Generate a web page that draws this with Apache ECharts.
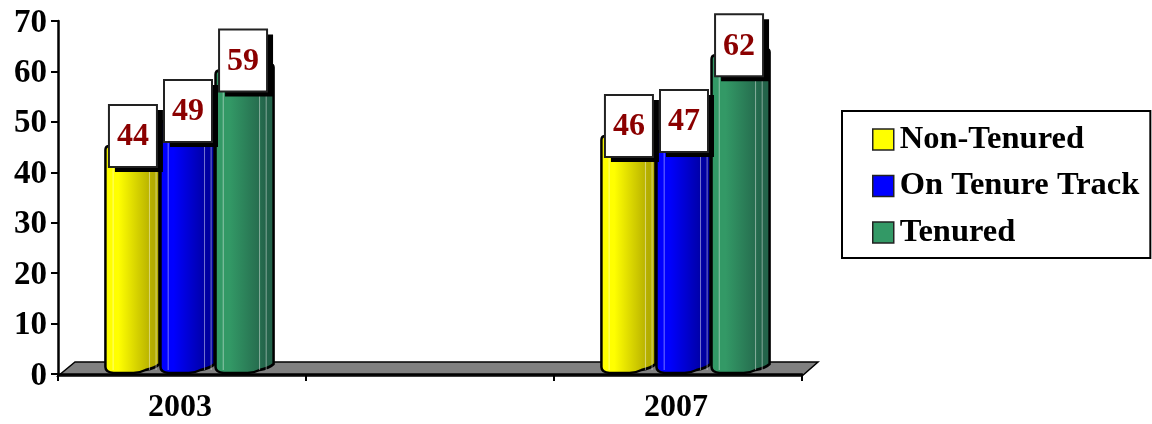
<!DOCTYPE html>
<html>
<head>
<meta charset="utf-8">
<style>
html, body { margin: 0; padding: 0; background: #fff; }
#chart { width: 1152px; height: 424px; }
</style>
<script src="https://cdn.jsdelivr.net/npm/echarts@6/dist/echarts.min.js"></script>
</head>
<body>
<div id="chart"></div>
<script>
const categories = ["2003", "", "2007"];
const nonTenured = [44, null, 46];
const onTenureTrack = [49, null, 47];
const tenured = [59, null, 62];

const seriesNames = ["Non-Tenured", "On Tenure Track", "Tenured"];
const seriesValues = [nonTenured, onTenureTrack, tenured];
const seriesColors = ["#ffff00", "#0000ff", "#339966"];
const seriesDark = ["#b4ad00", "#0000a0", "#23644a"];

const fontName = '"Liberation Serif", "Times New Roman", serif';
const chart = echarts.init(document.getElementById("chart"));

// left, top and bottom edge of the plot
const gridLeft = 58, gridRight = 802, gridTop = 21, gridBottom = 376;

function barGradient(i) {
    return {
        type: "linear", x: 0, y: 0, x2: 1, y2: 0,
        colorStops: [
            { offset: 0, color: seriesColors[i] },
            { offset: 0.25, color: seriesColors[i] },
            { offset: 0.85, color: seriesDark[i] },
            { offset: 1, color: seriesDark[i] }
        ]
    };
}

// one cylinder plus its value box
function renderBar(i, params, api) {
    const top = api.coord([api.value(0), api.value(1)]);
    const base = api.coord([api.value(0), 0]);
    const w = api.size([1, 0])[0] * 0.222;
    const x = top[0] + (i - 1) * w - w / 2 + 6;
    const y = top[1] - 6;
    const y0 = base[1] - 1;
    const depth = i === 2 ? 4 : 0;   // the last bar shows its side
    const r = x + w + depth - 1;
    const pathData = "M" + x + " " + (y + 4) +
        "Q" + x + " " + y + " " + (x + 4) + " " + y +
        "L" + (r - 3) + " " + (y - 6) +
        "Q" + r + " " + (y - 6) + " " + r + " " + (y - 3) +
        "L" + r + " " + (y0 - 9) +
        "Q" + (r - 4) + " " + (y0 - 5) + " " + (r - 14) + " " + (y0 - 3) +
        "Q" + (r - 20) + " " + y0 + " " + (r - 26) + " " + y0 +
        "L" + (x + 8) + " " + y0 +
        "Q" + x + " " + (y0 - 1) + " " + x + " " + (y0 - 6) + "Z";
    const cx = top[0] + (i - 1) * w + 6;
    const cy = top[1] - 16;
    const lines = [0.14, 0.8, 0.92].map(f => ({
        type: "line",
        z2: i + 1,
        shape: { x1: x + w * f, y1: y + 3, x2: x + w * f, y2: y0 - 3 },
        style: { stroke: "rgba(255,255,255,0.45)", lineWidth: 1 }
    }));
    return {
        type: "group",
        children: [
            {
                type: "path",
                z2: i,
                shape: { pathData: pathData },
                style: { fill: barGradient(i), stroke: "#000", lineWidth: 2.5 }
            }
        ].concat(lines, [
            {
                type: "rect",
                z2: 100,
                shape: { x: cx - 24 + 6, y: cy - 31 + 5, width: 48, height: 62 },
                style: { fill: "#000" }
            },
            {
                type: "rect",
                z2: 101,
                shape: { x: cx - 24, y: cy - 31, width: 48, height: 62 },
                style: { fill: "#fff", stroke: "#222", lineWidth: 2 }
            },
            {
                type: "text",
                z2: 102,
                style: {
                    x: cx, y: cy + 1,
                    text: String(api.value(1)),
                    fill: "#8b0000",
                    font: "bold 32px " + fontName,
                    textAlign: "center",
                    textVerticalAlign: "middle"
                }
            }
        ])
    };
}

const option = {
    animation: false,
    backgroundColor: "#fff",
    grid: {
        left: gridLeft,
        right: 1152 - gridRight,
        top: gridTop,
        bottom: 424 - gridBottom
    },
    legend: {
        orient: "vertical",
        left: 842,
        top: 111,
        padding: [12, 11, 9, 30],
        itemGap: 13.5,
        itemWidth: 21,
        itemHeight: 21,
        borderColor: "#000",
        borderWidth: 2,
        data: seriesNames.map((name, i) => ({
            name: name,
            icon: "rect",
            itemStyle: { color: seriesColors[i], borderColor: "#222", borderWidth: 1.5 }
        })),
        textStyle: {
            fontFamily: fontName,
            fontWeight: "bold",
            fontSize: 32.5,
            color: "#000",
            padding: [0, 0, 0, 1]
        }
    },
    xAxis: {
        type: "category",
        data: categories,
        boundaryGap: true,
        axisLine: { lineStyle: { color: "#000", width: 2.5 } },
        axisTick: { show: true, length: 7, alignWithLabel: false, lineStyle: { color: "#000", width: 2 } },
        axisLabel: {
            interval: 0,
            margin: 18,
            padding: [0, 4, 0, 0],
            color: "#000",
            fontFamily: fontName,
            fontWeight: "bold",
            fontSize: 32
        },
        splitLine: { show: false }
    },
    yAxis: {
        type: "value",
        min: 0,
        max: 70,
        interval: 10,
        axisLine: { show: true, lineStyle: { color: "#000", width: 2.5 } },
        axisTick: { show: true, length: 7, lineStyle: { color: "#000", width: 2 } },
        axisLabel: {
            margin: 11,
            formatter: "{s| }\n{a|{value}}",  // the thin empty line pushes the digits down a little
            rich: {
                s: { fontSize: 4, lineHeight: 4 },
                a: {
                    color: "#000",
                    fontFamily: fontName,
                    fontWeight: "bold",
                    fontSize: 33,
                    lineHeight: 33
                }
            }
        },
        splitLine: { show: false }
    },
    // the grey floor of the 3D plot
    graphic: [{
        type: "polygon",
        z: 0,
        shape: {
            points: [[gridLeft, gridBottom], [gridLeft + 17, gridBottom - 14],
                [gridRight + 16, gridBottom - 14], [gridRight, gridBottom]]
        },
        style: { fill: "#808080", stroke: "#000", lineWidth: 1.5 }
    }],
    series: seriesNames.map((name, i) => ({
        name: name,
        type: "custom",
        z: 5,
        clip: false,
        itemStyle: { color: seriesColors[i] },
        encode: { x: 0, y: 1 },
        data: seriesValues[i]
            .map((v, c) => [c, v])
            .filter(d => d[1] !== null),
        renderItem: (params, api) => renderBar(i, params, api)
    }))
};

chart.setOption(option);
window.addEventListener("resize", function () {
    chart.resize();
});
</script>
</body>
</html>
